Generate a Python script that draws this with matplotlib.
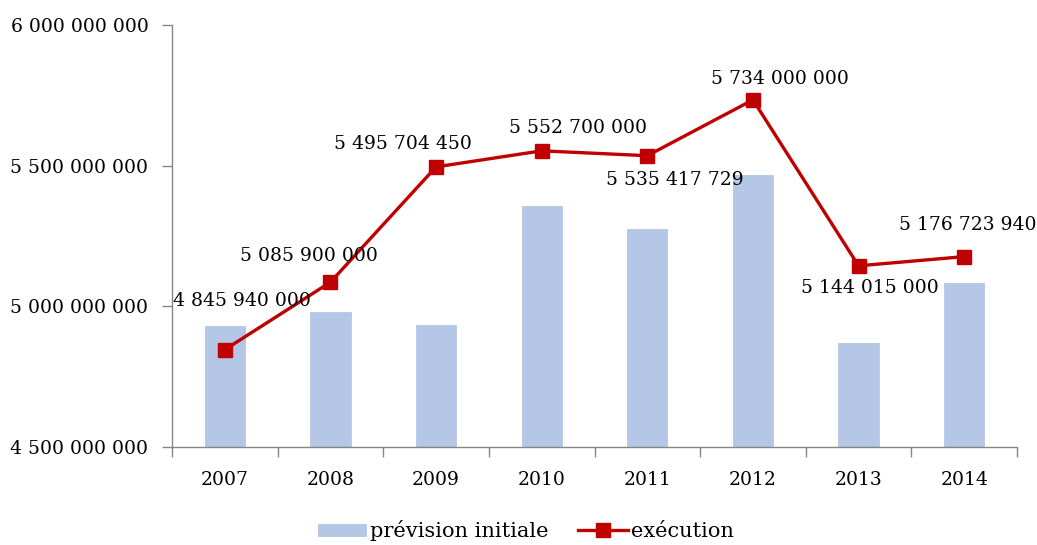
import matplotlib
matplotlib.use("Agg")
import matplotlib.pyplot as plt
from matplotlib.ticker import FuncFormatter, FixedLocator

years = ["2007", "2008", "2009", "2010", "2011", "2012", "2013", "2014"]
prevision = [4.933e9, 4.984e9, 4.937e9, 5.360e9, 5.277e9, 5.470e9, 4.873e9, 5.086e9]
execution = [4845940000, 5085900000, 5495704450, 5552700000,
             5535417729, 5734000000, 5144015000, 5176723940]
exec_labels = ["4 845 940 000", "5 085 900 000", "5 495 704 450", "5 552 700 000",
               "5 535 417 729", "5 734 000 000", "5 144 015 000", "5 176 723 940"]
y_ticks = [4.5e9, 5.0e9, 5.5e9, 6.0e9]

# label offsets in pixels (layout)
label_offsets = [(17, 49), (-21, 26), (-33, 23), (36, 23), (27, -24), (27, 21), (11, -22), (4, 32)]

plt.rcParams['font.family'] = ['DejaVu Serif']
FS = 13.5

fig = plt.figure(figsize=(10.37, 5.45), dpi=100)
ax = fig.add_axes([172/1037, 1-447/545, (1017-172)/1037, (447-25)/545])

x = list(range(len(years)))
bars = ax.bar(x, prevision, width=0.4, color="#B4C7E7", edgecolor="white", linewidth=0.8,
              label="prévision initiale", zorder=2)
line, = ax.plot(x, execution, color="#C00000", linewidth=2.4, marker="s", markersize=10,
                label="exécution", zorder=3)

for xi, v, lab, off in zip(x, execution, exec_labels, label_offsets):
    ax.annotate(lab, (xi, v), xytext=off, textcoords="offset pixels",
                ha="center", va="center", fontsize=FS, color="black", zorder=4)

ax.set_xlim(-0.5, len(years) - 0.5)
ax.set_ylim(4.5e9, 6.0e9)
ax.yaxis.set_major_locator(FixedLocator(y_ticks))
ax.yaxis.set_major_formatter(FuncFormatter(lambda v, p: f"{int(round(v)):,}".replace(",", " ")))

ax.set_xticks(x)
ax.set_xticklabels(years)
ax.set_xticks([i - 0.5 for i in range(len(years) + 1)], minor=True)
ax.tick_params(axis="x", which="major", length=0, pad=17, labelsize=FS)
ax.tick_params(axis="x", which="minor", length=7, color="#868686", width=1)
ax.tick_params(axis="y", which="major", length=7, color="#868686", width=1, labelsize=FS, pad=10)

for s in ["top", "right"]:
    ax.spines[s].set_visible(False)
for s in ["left", "bottom"]:
    ax.spines[s].set_color("#868686")
    ax.spines[s].set_linewidth(1)

fig.legend(handles=[bars, line], loc="center", bbox_to_anchor=(0.507, 0.026), ncol=2,
           frameon=False, fontsize=15, handlelength=2.4, handleheight=0.6,
           columnspacing=1.4, handletextpad=0.15)

fig.savefig("out.png", dpi=100)
